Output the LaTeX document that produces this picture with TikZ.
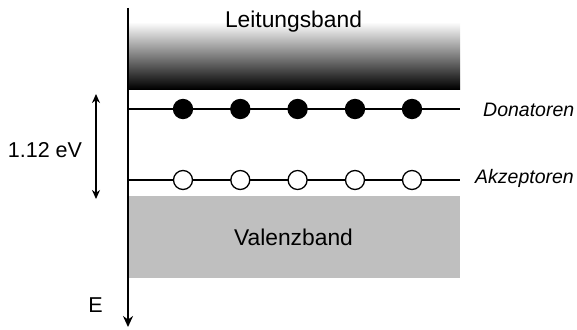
\documentclass[tikz,border=0pt]{standalone}
\usepackage{fontspec}
\setmainfont{Liberation Sans}
\usetikzlibrary{arrows.meta}
\tikzset{gaptip/.tip={Stealth[length=9pt,width=8pt]}}
\begin{document}
\begin{tikzpicture}[x=1pt,y=-1pt,
 lbl/.style={font=\fontsize{21.5}{24}\selectfont, inner sep=0pt, anchor=base},
 blbl/.style={font=\fontsize{22.8}{26}\selectfont, inner sep=0pt, anchor=base},
 ilbl/.style={font=\fontsize{19.5}{22}\selectfont\itshape, inner sep=0pt, anchor=base west},
 donor/.style={circle, fill=black, draw=black, line width=1.3pt, minimum size=19pt, inner sep=0pt},
 acceptor/.style={circle, fill=white, draw=black, line width=1.3pt, minimum size=19pt, inner sep=0pt},
 level/.style={line width=1.7pt},
]
\useasboundingbox (0,0) rectangle (577,329);
% conduction band
\fill[white] (129,8) rectangle (460,89);
\shade[top color=white, bottom color=black] (129,22) rectangle (460,89);
\node[blbl] (cb) at (293.5,28) {Leitungsband};
% valence band
\fill[black!25] (129,196) rectangle (460,278);
\node[blbl] (vb) at (293.5,245) {Valenzband};
% donor level
\coordinate (dl) at (128,109);
\coordinate (dr) at (460,109);
\draw[level] (dl) -- (dr);
\foreach \i/\x in {1/183,2/240.3,3/297.6,4/355,5/412}
  \node[donor] (d\i) at (\x,109) {};
\node[ilbl] (dlab) at (483,116) {Donatoren};
% acceptor level
\coordinate (al) at (128,180);
\coordinate (ar) at (460,180);
\draw[level] (al) -- (ar);
\foreach \i/\x in {1/183,2/240.3,3/297.6,4/355,5/412}
  \node[acceptor] (a\i) at (\x,180) {};
\node[ilbl] (alab) at (475,183) {Akzeptoren};
% gap arrow
\coordinate (gt) at (96,94);
\coordinate (gb) at (96,199);
\draw[line width=1.5pt, gaptip-gaptip] (gt) -- (gb);
\node[lbl] (gap) at (45,157) {1.12 eV};
% energy axis
\coordinate (et) at (128,8);
\coordinate (eb) at (128,327);
\draw[line width=2.5pt, -{Stealth[length=11pt,width=10pt]}] (et) -- (eb);
\node[lbl] (E) at (95.5,312) {E};
\end{tikzpicture}
\end{document}
